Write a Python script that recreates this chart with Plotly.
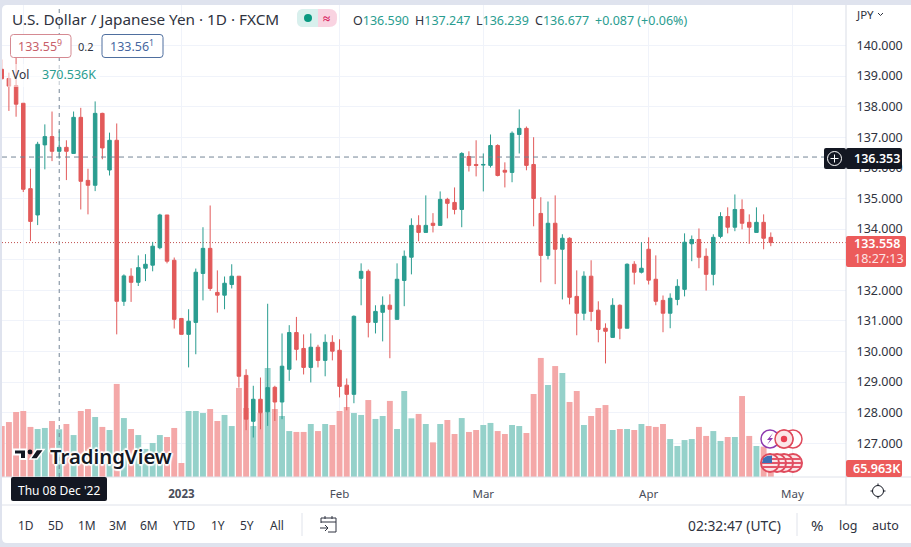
import plotly.graph_objects as go

W, H = 911, 547

sessions = list(range(108))
opens = [139.22,138.92,138.69,138.11,135.32,134.46,136.75,137.02,136.54,136.67,136.47,137.65,135.59,135.43,137.78,135.93,136.90,131.64,132.46,132.26,
         132.72,132.82,133.39,134.46,132.98,131.08,130.56,130.95,132.55,133.37,131.93,131.84,132.19,132.46,129.22,127.72,128.44,128.03,128.83,128.35,
         129.42,130.62,130.10,129.48,130.14,129.71,130.30,130.04,128.90,128.60,132.39,132.62,130.95,131.28,131.51,131.05,132.32,133.08,134.12,133.89,
         134.19,134.12,134.97,134.87,134.64,136.37,136.11,136.09,136.08,136.73,135.92,135.85,137.09,137.29,136.11,134.51,133.14,134.19,133.34,133.70,
         131.80,131.25,132.46,131.35,130.76,130.46,131.51,130.76,132.85,132.59,133.34,132.36,131.67,131.25,131.70,132.03,133.52,133.66,133.11,132.52,
         133.76,134.41,134.06,134.64,134.22,133.89,134.22,133.73]
highs = [139.54,139.11,139.71,138.11,135.97,136.85,137.42,137.84,137.22,136.90,137.84,137.96,135.97,138.17,137.80,137.15,137.45,132.52,132.72,133.14,
         133.18,133.58,134.50,134.46,133.07,131.08,131.38,132.71,134.06,134.77,132.65,132.45,132.85,132.46,129.42,128.88,129.15,131.56,128.88,130.59,
         130.86,131.13,130.56,130.59,130.22,130.56,130.53,130.40,129.12,131.18,132.88,132.68,131.51,131.80,131.87,132.88,133.30,134.35,134.45,135.10,
         134.52,135.23,135.02,135.36,136.51,136.54,136.90,136.47,137.09,136.77,136.18,137.19,137.91,137.35,137.00,135.04,134.90,135.10,133.83,133.73,
         132.65,132.62,132.98,131.64,130.92,131.74,131.54,132.88,132.95,133.57,133.73,133.14,131.83,131.90,132.36,133.86,133.79,134.02,133.37,133.83,
         134.55,134.71,135.13,134.97,134.48,134.71,134.48,133.89]
lows = [138.89,137.86,137.67,135.21,133.61,134.13,135.95,136.22,136.30,135.60,136.47,134.64,134.48,135.24,136.28,135.75,130.56,131.49,131.62,132.14,
        132.30,132.62,133.34,132.88,130.75,130.56,129.48,129.91,131.67,131.98,131.27,131.38,132.06,128.82,127.43,127.19,127.46,127.57,127.73,127.79,
        129.04,129.71,129.25,128.99,129.48,129.19,129.71,128.50,128.08,128.31,131.51,130.46,130.59,130.33,129.78,131.05,131.48,132.52,133.60,133.89,
        133.89,134.12,134.35,134.48,134.06,135.88,135.72,135.23,136.01,135.72,135.36,135.53,136.47,135.92,134.09,132.26,133.01,132.20,131.70,131.54,
        130.53,131.02,130.99,130.30,129.61,130.46,130.40,130.76,132.19,132.55,132.19,131.51,130.63,130.76,131.51,131.80,132.95,132.72,131.99,132.16,
        133.70,133.86,133.93,133.99,133.52,133.89,133.34,133.44]
closes = [138.91,138.67,138.08,135.30,134.25,136.77,137.02,136.54,136.67,136.54,137.65,135.56,135.43,137.78,136.65,136.90,131.64,132.47,132.26,132.74,
          132.85,133.44,134.46,132.95,131.05,130.56,130.99,132.59,133.37,132.06,131.84,132.23,132.46,129.19,127.79,128.44,128.00,128.82,128.35,129.52,
          130.62,130.07,129.48,130.14,129.71,130.30,130.01,128.86,128.60,131.15,132.62,130.95,131.31,131.51,131.38,132.36,133.11,134.12,133.89,134.12,
          134.12,134.97,134.84,134.64,136.47,136.08,136.08,136.11,136.73,135.75,135.86,137.13,137.29,136.08,135.00,133.14,134.19,133.34,133.70,131.77,
          131.25,132.46,131.31,130.72,130.66,131.51,130.76,132.85,132.59,132.72,132.33,131.64,131.25,131.74,132.13,133.57,133.66,133.08,132.52,133.73,
          134.41,134.06,134.64,134.19,134.06,134.22,133.70,133.558]
volumes_k = [396,427,505,513,389,373,381,435,370.536,412,326,513,528,466,389,365,723,458,373,326,
             218,264,326,311,381,109,513,513,497,528,435,482,396,692,536,396,497,847,528,474,
             357,350,350,412,357,412,404,513,544,497,482,598,451,474,591,373,668,456,490,412,
             269,412,443,334,458,350,365,404,420,357,334,404,396,342,645,925,715,862,808,583,
             668,404,474,536,559,365,373,373,365,412,396,389,412,295,241,287,295,389,319,357,
             280,311,311,629,319,241,236,65.963]
price_ticks = [127,128,129,130,131,132,133,134,135,136,137,138,139,140]
month_ticks = [3,25,47,67,90,110]
month_labels = ["Dec","<b>2023</b>","Feb","Mar","Apr","May"]
range_buttons = [("1D",26),("5D",56),("1M",87),("3M",118),("6M",149),("YTD",184),("1Y",218),("5Y",247),("All",277)]

RED, GREEN = "#e25a5a", "#2a9d90"
PRED, PGREEN = "#f4a8a8", "#95d1ca"
INK = "#2f3340"
DARK = "#131722"
FONT = "Noto Sans"

def X(x): return x / W
def Y(y): return 1 - y / H

shapes = []
ann = []

def rect(x0, y0, x1, y1, fill="rgba(0,0,0,0)", line=None, lw=1, layer="above"):
    shapes.append(dict(type="rect", xref="paper", yref="paper", x0=X(x0), x1=X(x1), y0=Y(y0), y1=Y(y1),
                       fillcolor=fill, line=dict(color=line or "rgba(0,0,0,0)", width=lw if line else 0), layer=layer))

def rrect(x0, y0, x1, y1, r, fill="rgba(0,0,0,0)", line=None, lw=1, layer="above"):
    p = [f"M{X(x0+r)},{Y(y0)}", f"L{X(x1-r)},{Y(y0)}", f"Q{X(x1)},{Y(y0)} {X(x1)},{Y(y0+r)}",
         f"L{X(x1)},{Y(y1-r)}", f"Q{X(x1)},{Y(y1)} {X(x1-r)},{Y(y1)}", f"L{X(x0+r)},{Y(y1)}",
         f"Q{X(x0)},{Y(y1)} {X(x0)},{Y(y1-r)}", f"L{X(x0)},{Y(y0+r)}", f"Q{X(x0)},{Y(y0)} {X(x0+r)},{Y(y0)}", "Z"]
    shapes.append(dict(type="path", xref="paper", yref="paper", path=" ".join(p), fillcolor=fill,
                       line=dict(color=line or "rgba(0,0,0,0)", width=lw if line else 0), layer=layer))

def circle(cx, cy, r, fill="rgba(0,0,0,0)", line=None, lw=1):
    shapes.append(dict(type="circle", xref="paper", yref="paper", x0=X(cx-r), x1=X(cx+r), y0=Y(cy+r), y1=Y(cy-r),
                       fillcolor=fill, line=dict(color=line or "rgba(0,0,0,0)", width=lw if line else 0), layer="above"))

def seg(x0, y0, x1, y1, color, lw=1, layer="above"):
    shapes.append(dict(type="line", xref="paper", yref="paper", x0=X(x0), x1=X(x1), y0=Y(y0), y1=Y(y1),
                       line=dict(color=color, width=lw), layer=layer))

def poly(points, fill, line=None, lw=1):
    p = "M" + " L".join(f"{X(a)},{Y(b)}" for a, b in points) + " Z"
    shapes.append(dict(type="path", xref="paper", yref="paper", path=p, fillcolor=fill,
                       line=dict(color=line or "rgba(0,0,0,0)", width=lw if line else 0), layer="above"))

def T(x, y, text, size=12, color=INK, anchor="left", **font):
    ann.append(dict(xref="paper", yref="paper", x=X(x), y=Y(y), text=text, showarrow=False, xanchor=anchor,
                    yanchor="middle", borderpad=0, borderwidth=0,
                    font=dict(family=FONT, size=size, color=color, **font)))

# panel and dividers
rrect(2, 5, W + 6, 543, 5, fill="white", layer="below")
seg(846, 5, 846, 505, "#d9dde6", 1)
seg(2, 477, 911, 477, "#dfe2ea", 1)
seg(2, 505, 911, 505, "#dfe2ea", 1)

# crosshair and price lines
shapes.append(dict(type="line", xref="paper", yref="y2", x0=X(2), x1=X(846), y0=closes[-1], y1=closes[-1],
                   line=dict(color="#c0504f", width=1, dash="1px,2px"), layer="below"))
shapes.append(dict(type="line", xref="x", yref="paper", x0=8, x1=8, y0=Y(477), y1=Y(5),
                   line=dict(color="#758696", width=1, dash="4px,4px"), layer="above"))
shapes.append(dict(type="line", xref="paper", yref="y2", x0=X(2), x1=X(824), y0=136.353, y1=136.353,
                   line=dict(color="#758696", width=1, dash="5px,4px"), layer="above"))

# header
T(12, 19, "U.S. Dollar / Japanese Yen · 1D · FXCM", 15.3, INK)
rrect(297, 9, 337, 27, 8, fill="#f9d3e1")
rrect(297, 9, 318, 27, 6, fill="#d8f0ed")
rect(312, 9, 318, 27, fill="#d8f0ed")
circle(308, 18, 4, fill="#089981")
T(326, 18, "≈", 13, "#d81b60", "center", weight=700)
g = "#2a9d90"
T(353, 20, f"O<span style='color:{g}'>136.590</span>", 12.5, INK)
T(415, 20, f"H<span style='color:{g}'>137.247</span>", 12.5, INK)
T(476, 20, f"L<span style='color:{g}'>136.239</span>", 12.5, INK)
T(535, 20, f"C<span style='color:{g}'>136.677</span>", 12.5, INK)
T(595, 20, "+0.087 (+0.06%)", 12.5, g)

rrect(10.5, 34.5, 71, 57.5, 3, fill="white", line="#d58a92", lw=1)
T(18, 46, "133.55<sup>9</sup>", 12.5, "#c8606a")
T(86, 46, "0.2", 11, INK, "center")
rrect(102, 34.5, 163, 57.5, 3, fill="white", line="#4f6f9f", lw=1)
T(110, 46, "133.56<sup>1</sup>", 12.5, "#47679f")
rect(8, 64, 100, 87, fill="rgba(255,255,255,0.55)")
T(12, 74, "Vol", 12, INK)
T(42, 74, "370.536K", 12.5, g)

# watermark
halo = "-2px 0 1px white, 2px 0 1px white, 0 -2px 1px white, 0 2px 1px white, 1px 1px 2px white, -1px -1px 2px white"
poly([(14, 449.5), (26, 449.5), (26, 459), (20, 459), (20, 454.5), (14, 454.5)], DARK, "white", 2)
circle(30, 452, 2.4, fill=DARK)
poly([(36.5, 449.5), (44, 449.5), (37, 459), (30, 459)], DARK, "white", 1.5)
T(50, 456, "TradingView", 20.3, DARK, weight=600, shadow=halo)

# price scale labels
T(856, 14, "JPY", 11.5, INK)
shapes.append(dict(type="path", xref="paper", yref="paper", layer="above", line=dict(color=INK, width=1),
                   path=f"M{X(878)},{Y(13)} L{X(880.5)},{Y(15.5)} L{X(883)},{Y(13)}"))
rrect(824, 148, 846, 169, 2, fill=DARK)
circle(834.5, 158.5, 7, line="white", lw=1)
seg(830.5, 158.5, 838.5, 158.5, "white", 1)
seg(834.5, 154.5, 834.5, 162.5, "white", 1)
rrect(846, 148, 902, 169, 2, fill=DARK)
T(854, 158.5, "136.353", 12.5, "white", weight=600)
rrect(846, 236, 906, 267, 2, fill="#ec5b5b")
T(854, 244, "133.558", 12.5, "white", weight=600)
T(854, 258, "18:27:13", 12.5, "#fde3e3")
rrect(846, 460, 902, 477, 2, fill="#ec5b5b")
T(853, 468.5, "65.963K", 12.5, "white", weight=600)

# crosshair date
rrect(11, 477, 107, 501, 2, fill=DARK)
T(59, 490, "Thu 08 Dec '22", 12, "white", "center")

# event icons
for cx in (793, 784):
    circle(cx, 439, 9, fill="white", line="#df4a5c", lw=1.5)
circle(770, 439, 9, fill="white", line="#8e3bb0", lw=1.5)
poly([(773, 433), (767, 440), (770, 440), (767, 445), (773, 438), (770, 438)], "#8e3bb0")
circle(784, 439, 9, fill="#fbe6e8", line="#df4a5c", lw=1.5)
circle(784, 439, 3.2, fill="#ea3e50")
for cx in (793, 784, 777, 770):
    circle(cx, 463, 9, fill="#fbe6e8", line="#df4a5c", lw=2)
    for dy, half in ((-4, 7.5), (0, 8.5), (4, 7.5)):
        seg(cx - half, 463 + dy, cx + half, 463 + dy, "#e4566a", 2)
poly([(763.5, 458), (767, 456), (772, 455.5), (772, 463), (762, 463)], "#3d6fb5")

# gear icon
circle(878, 491, 5.5, line=DARK, lw=1)
for a, b, c, d in ((878, 483.5, 878, 485.5), (878, 496.5, 878, 498.5), (870.5, 491, 872.5, 491), (883.5, 491, 885.5, 491)):
    seg(a, b, c, d, DARK, 1)

# bottom bar
for label, x in range_buttons:
    T(x, 525, label, 12, INK, "center")
seg(302, 513, 302, 536, "#e0e3eb", 1)
shapes.append(dict(type="path", xref="paper", yref="paper", layer="above", line=dict(color=INK, width=1),
                   path=f"M{X(321)},{Y(523)} L{X(321)},{Y(518)} L{X(336)},{Y(518)} L{X(336)},{Y(532)} L{X(328)},{Y(532)} "
                        f"M{X(321)},{Y(522)} L{X(336)},{Y(522)} M{X(325)},{Y(516)} L{X(325)},{Y(519)} M{X(332)},{Y(516)} L{X(332)},{Y(519)} "
                        f"M{X(320)},{Y(528)} L{X(328)},{Y(528)} L{X(325)},{Y(525)} M{X(328)},{Y(528)} L{X(325)},{Y(531)}"))
T(781, 525, "02:32:47 (UTC)", 13.8, INK, "right")
seg(797, 513, 797, 536, "#e0e3eb", 1)
T(817, 525, "%", 15, INK, "center")
T(848, 525, "log", 12.5, INK, "center")
T(885, 525, "auto", 12.5, INK, "center")

vol_colors = [PRED if c < o else PGREEN for o, c in zip(opens, closes)]

fig = go.Figure()
fig.add_trace(go.Bar(x=sessions, y=volumes_k, marker=dict(color=vol_colors, line=dict(width=0)),
                     width=0.82, hoverinfo="skip", showlegend=False, yaxis="y", xaxis="x"))
fig.add_trace(go.Candlestick(x=sessions, open=opens, high=highs, low=lows, close=closes,
                             increasing=dict(line=dict(color=GREEN, width=1), fillcolor=GREEN),
                             decreasing=dict(line=dict(color=RED, width=1), fillcolor=RED),
                             whiskerwidth=0, hoverinfo="skip", showlegend=False, yaxis="y2", xaxis="x"))

fig.update_layout(
    width=W, height=H, autosize=False, margin=dict(l=0, r=0, t=0, b=0),
    paper_bgcolor="#dfe3ee", plot_bgcolor="rgba(0,0,0,0)", showlegend=False,
    font=dict(family=FONT, size=12, color=INK),
    xaxis=dict(domain=[X(2), X(846)], range=[0.04, 117.46], tickmode="array", tickvals=month_ticks, ticktext=month_labels,
               showgrid=True, gridcolor="#f0f3fa", gridwidth=1, zeroline=False, showline=False,
               ticks="outside", ticklen=6, tickcolor="rgba(0,0,0,0)", tickfont=dict(size=11.5, color="#4a4e5a"),
               rangeslider=dict(visible=False)),
    yaxis=dict(domain=[Y(477), Y(5)], range=[0, 3667], visible=False, showgrid=False, zeroline=False),
    yaxis2=dict(domain=[Y(477), Y(5)], overlaying="y", side="right", anchor="x", range=[125.90, 141.32], tickmode="array",
                tickvals=price_ticks, ticktext=[f"{v:.3f}" for v in price_ticks], showgrid=True, gridcolor="#f0f3fa", gridwidth=1,
                zeroline=False, showline=False, ticks="outside", ticklen=7, tickcolor="rgba(0,0,0,0)",
                tickfont=dict(size=12.5, color=INK)),
    shapes=shapes, annotations=ann, bargap=0.15,
)
fig.write_html("out.html", config=dict(displayModeBar=False),
               post_script="document.body.style.margin='0';document.documentElement.style.overflow='hidden';")
